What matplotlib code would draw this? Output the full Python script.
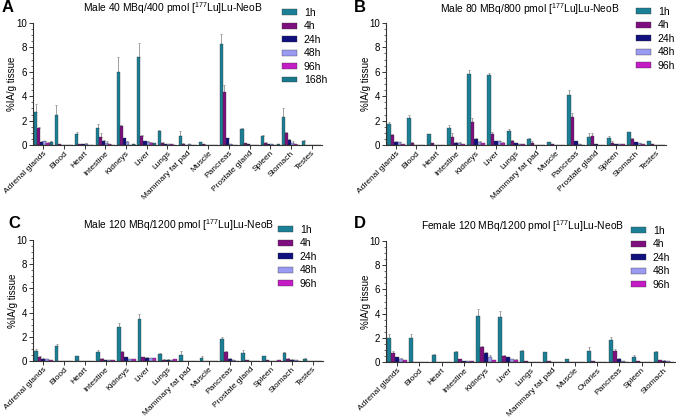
import numpy as np
import matplotlib.pyplot as plt

plt.rcParams['font.family'] = ['Liberation Sans', 'DejaVu Sans']

W, H = 676, 418

organs_m = ['Adrenal glands', 'Blood', 'Heart', 'Intestine', 'Kidneys', 'Liver', 'Lungs',
            'Mammary fat pad', 'Muscle', 'Pancreas', 'Prostate gland', 'Spleen', 'Stomach', 'Testes']
organs_f = ['Adrenal glands', 'Blood', 'Heart', 'Intestine', 'Kidneys', 'Liver', 'Lungs',
            'Mammary fat pad', 'Muscle', 'Ovaries', 'Pancreas', 'Spleen', 'Stomach']

times_a = ['1h', '4h', '24h', '48h', '96h', '168h']
times = ['1h', '4h', '24h', '48h', '96h']
colors = ['#1b7f95', '#7d0f7f', '#10107e', '#9a9af2', '#c41cc4', '#177a8c']

# panel A - male 40 MBq
a_1h = [2.73, 2.46, 0.88, 1.42, 6.0, 7.25, 1.15, 0.74, 0.22, 8.3, 1.31, 0.76, 2.32, 0.35]
a_4h = [1.37, 0.1, 0.08, 0.68, 1.58, 0.74, 0.2, 0.1, 0.05, 4.35, 0.15, 0.18, 0.96, 0.02]
a_24h = [0.27, 0.02, 0.05, 0.33, 0.55, 0.33, 0.08, 0.03, 0.02, 0.55, 0.05, 0.1, 0.41, 0.02]
a_48h = [0.3, 0.02, 0.1, 0.2, 0.27, 0.27, 0.05, 0.05, 0.01, 0.1, 0.03, 0.05, 0.18, 0.01]
a_96h = [0.2, 0.01, 0.03, 0.08, 0.03, 0.2, 0.05, 0.02, 0.01, 0.03, 0.02, 0.03, 0.1, 0.01]
a_168h = [0.25, 0.01, 0.02, 0.02, 0.1, 0.17, 0.02, 0.02, 0.01, 0.02, 0.01, 0.05, 0.03, 0.01]
a_1h_err = [0.67, 0.82, 0.16, 0.3, 1.2, 1.15, 0.12, 0.41, 0.04, 0.8, 0.06, 0.06, 0.68, 0.04]
a_4h_err = [0.13, 0.02, 0.03, 0.27, 0.1, 0.06, 0.08, 0.03, 0.02, 0.55, 0.03, 0.03, 0.09, 0.01]
a_24h_err = [0.04, 0.0, 0.01, 0.05, 0.04, 0.03, 0.02, 0.0, 0.0, 0.05, 0.01, 0.02, 0.05, 0.0]
a_48h_err = [0.05, 0.0, 0.05, 0.15, 0.05, 0.05, 0.02, 0.0, 0.0, 0.02, 0.01, 0.01, 0.12, 0.0]
a_96h_err = [0.03, 0.0, 0.01, 0.02, 0.01, 0.03, 0.01, 0.0, 0.0, 0.0, 0.0, 0.01, 0.02, 0.0]
a_168h_err = [0.05, 0.0, 0.0, 0.0, 0.02, 0.02, 0.0, 0.0, 0.0, 0.0, 0.0, 0.01, 0.0, 0.0]

# panel B - male 80 MBq
b_1h = [1.72, 2.19, 0.88, 1.37, 5.82, 5.72, 1.15, 0.46, 0.22, 4.1, 0.63, 0.58, 1.04, 0.33]
b_4h = [0.82, 0.15, 0.15, 0.68, 1.91, 0.9, 0.3, 0.2, 0.05, 2.32, 0.74, 0.2, 0.49, 0.08]
b_24h = [0.22, 0.02, 0.03, 0.18, 0.47, 0.3, 0.15, 0.03, 0.02, 0.3, 0.05, 0.08, 0.25, 0.02]
b_48h = [0.22, 0.01, 0.02, 0.18, 0.25, 0.3, 0.1, 0.02, 0.01, 0.1, 0.03, 0.08, 0.15, 0.01]
b_96h = [0.1, 0.01, 0.01, 0.05, 0.15, 0.2, 0.05, 0.01, 0.01, 0.03, 0.03, 0.05, 0.05, 0.01]
b_1h_err = [0.18, 0.27, 0.04, 0.27, 0.33, 0.18, 0.15, 0.14, 0.03, 0.4, 0.33, 0.12, 0.05, 0.03]
b_4h_err = [0.08, 0.1, 0.03, 0.27, 0.3, 0.2, 0.1, 0.15, 0.01, 0.32, 0.26, 0.1, 0.08, 0.02]
b_24h_err = [0.13, 0.0, 0.0, 0.03, 0.12, 0.03, 0.03, 0.0, 0.0, 0.04, 0.01, 0.01, 0.03, 0.0]
b_48h_err = [0.03, 0.0, 0.0, 0.03, 0.04, 0.03, 0.02, 0.0, 0.0, 0.02, 0.0, 0.01, 0.02, 0.0]
b_96h_err = [0.02, 0.0, 0.0, 0.01, 0.03, 0.02, 0.01, 0.0, 0.0, 0.01, 0.0, 0.01, 0.01, 0.0]

# panel C - male 120 MBq
c_1h = [0.8, 1.22, 0.38, 0.74, 2.83, 3.45, 0.6, 0.46, 0.25, 1.8, 0.65, 0.38, 0.62, 0.2]
c_4h = [0.33, 0.02, 0.03, 0.2, 0.75, 0.3, 0.12, 0.03, 0.02, 0.75, 0.05, 0.05, 0.18, 0.02]
c_24h = [0.2, 0.01, 0.02, 0.1, 0.3, 0.28, 0.12, 0.02, 0.01, 0.2, 0.03, 0.03, 0.12, 0.01]
c_48h = [0.15, 0.01, 0.02, 0.05, 0.15, 0.22, 0.1, 0.01, 0.01, 0.05, 0.02, 0.03, 0.05, 0.01]
c_96h = [0.1, 0.01, 0.01, 0.05, 0.15, 0.22, 0.15, 0.01, 0.01, 0.03, 0.02, 0.05, 0.03, 0.01]
c_1h_err = [0.2, 0.18, 0.05, 0.15, 0.27, 0.4, 0.1, 0.34, 0.2, 0.2, 0.25, 0.07, 0.13, 0.02]
c_4h_err = [0.05, 0.0, 0.0, 0.03, 0.05, 0.03, 0.02, 0.0, 0.0, 0.1, 0.01, 0.01, 0.03, 0.0]
c_24h_err = [0.03, 0.0, 0.0, 0.02, 0.04, 0.03, 0.02, 0.0, 0.0, 0.03, 0.0, 0.0, 0.02, 0.0]
c_48h_err = [0.02, 0.0, 0.0, 0.01, 0.02, 0.02, 0.02, 0.0, 0.0, 0.01, 0.0, 0.0, 0.01, 0.0]
c_96h_err = [0.02, 0.0, 0.0, 0.01, 0.03, 0.02, 0.03, 0.0, 0.0, 0.01, 0.0, 0.01, 0.01, 0.0]

# panel D - female 120 MBq
d_1h = [2.0, 1.95, 0.6, 0.8, 3.83, 3.7, 0.88, 0.8, 0.22, 0.9, 1.85, 0.45, 0.8]
d_4h = [0.75, 0.02, 0.02, 0.25, 1.2, 0.5, 0.05, 0.08, 0.02, 0.05, 0.95, 0.08, 0.15]
d_24h = [0.4, 0.01, 0.01, 0.1, 0.75, 0.4, 0.02, 0.03, 0.01, 0.02, 0.25, 0.03, 0.12]
d_48h = [0.25, 0.01, 0.01, 0.08, 0.4, 0.25, 0.02, 0.03, 0.01, 0.02, 0.05, 0.02, 0.05]
d_96h = [0.15, 0.01, 0.01, 0.1, 0.15, 0.2, 0.01, 0.02, 0.01, 0.01, 0.03, 0.02, 0.03]
d_1h_err = [0.35, 0.35, 0.05, 0.1, 0.57, 0.5, 0.12, 0.05, 0.02, 0.35, 0.2, 0.1, 0.1]
d_4h_err = [0.15, 0.0, 0.0, 0.03, 0.1, 0.05, 0.0, 0.01, 0.0, 0.01, 0.15, 0.01, 0.02]
d_24h_err = [0.05, 0.0, 0.0, 0.02, 0.05, 0.03, 0.0, 0.0, 0.0, 0.0, 0.1, 0.0, 0.02]
d_48h_err = [0.04, 0.0, 0.0, 0.02, 0.2, 0.03, 0.0, 0.0, 0.0, 0.0, 0.02, 0.0, 0.01]
d_96h_err = [0.02, 0.0, 0.0, 0.02, 0.03, 0.02, 0.0, 0.0, 0.0, 0.0, 0.01, 0.0, 0.01]


def px_axes(fig, left, top, right, bottom):
    return fig.add_axes([left / W, 1 - bottom / H, (right - left) / W, (bottom - top) / H])


def draw_panel(fig, box, organs, series, errs, labels, title, letter, title_xy, letter_xy, ylab_x, leg_xy):
    ax = px_axes(fig, *box)
    x = np.arange(len(organs))
    n = len(series)
    w = 0.9 / n
    for i in range(n):
        pos = x - 0.45 + w * (i + 0.5)
        vals = np.array(series[i])
        e = np.array(errs[i])
        ax.bar(pos, vals, width=w, color=colors[i], edgecolor='#333333', linewidth=0.25,
               label=labels[i], zorder=2)
        ax.errorbar(pos, vals, yerr=[np.zeros_like(e), e], fmt='none', ecolor='#a0a0a0',
                    elinewidth=0.7, capsize=1.0, capthick=0.7, zorder=1)
    ax.set_xlim(-0.5, len(organs) - 0.5)
    ax.set_ylim(0, 10)
    ax.set_yticks([0, 2, 4, 6, 8, 10])
    ax.set_yticks(np.arange(0, 10.01, 0.5), minor=True)
    ax.set_xticks(x)
    ax.set_xticklabels(organs, rotation=45, ha='right', rotation_mode='anchor', fontsize=6.0)
    ax.tick_params(axis='y', labelsize=7, length=3, width=0.7, pad=1.5, color='#333333')
    ax.tick_params(axis='y', which='minor', length=1.8, width=0.5, color='#333333')
    ax.tick_params(axis='x', length=3, width=0.7, pad=0.3, color='#333333')
    for s in ['top', 'right']:
        ax.spines[s].set_visible(False)
    for s in ['left', 'bottom']:
        ax.spines[s].set_linewidth(0.8)
        ax.spines[s].set_color('#333333')
    fig.text(ylab_x / W, 1 - ((box[1] + box[3]) / 2) / H, '%IA/g tissue', rotation=90,
             ha='center', va='center', fontsize=7)
    fig.text(title_xy[0] / W, 1 - title_xy[1] / H, title, ha='center', va='center', fontsize=7.4)
    fig.text(letter_xy[0] / W, 1 - letter_xy[1] / H, letter, ha='left', va='center',
             fontsize=12, fontweight='bold')
    ax.legend(loc='upper left', bbox_to_anchor=(leg_xy[0] / W, 1 - leg_xy[1] / H),
              bbox_transform=fig.transFigure, frameon=False, fontsize=7.5,
              handlelength=1.4, handleheight=0.5, handletextpad=0.7, labelspacing=0.33,
              borderaxespad=0, borderpad=0)
    return ax


fig = plt.figure(figsize=(W / 100, H / 100), dpi=100)

tracer = r'[$^{\mathregular{177}}$Lu]Lu-NeoB'

draw_panel(fig, (33, 23, 322, 145), organs_m,
           [a_1h, a_4h, a_24h, a_48h, a_96h, a_168h],
           [a_1h_err, a_4h_err, a_24h_err, a_48h_err, a_96h_err, a_168h_err],
           times_a, 'Male 40 MBq/400 pmol ' + tracer, 'A', (173, 8), (2, 8), 12, (282, 8))

draw_panel(fig, (386, 23, 666, 145), organs_m,
           [b_1h, b_4h, b_24h, b_48h, b_96h],
           [b_1h_err, b_4h_err, b_24h_err, b_48h_err, b_96h_err],
           times, 'Male 80 MBq/800 pmol ' + tracer, 'B', (530, 9), (354, 8), 366, (636, 7))

draw_panel(fig, (33, 240, 323, 361), organs_m,
           [c_1h, c_4h, c_24h, c_48h, c_96h],
           [c_1h_err, c_4h_err, c_24h_err, c_48h_err, c_96h_err],
           times, 'Male 120 MBq/1200 pmol ' + tracer, 'C', (179, 225), (8, 224), 13, (278, 225))

draw_panel(fig, (386, 241, 675, 362), organs_f,
           [d_1h, d_4h, d_24h, d_48h, d_96h],
           [d_1h_err, d_4h_err, d_24h_err, d_48h_err, d_96h_err],
           times, 'Female 120 MBq/1200 pmol ' + tracer, 'D', (523, 226), (354, 224), 366, (631, 226))

fig.savefig('out.png', dpi=100)
